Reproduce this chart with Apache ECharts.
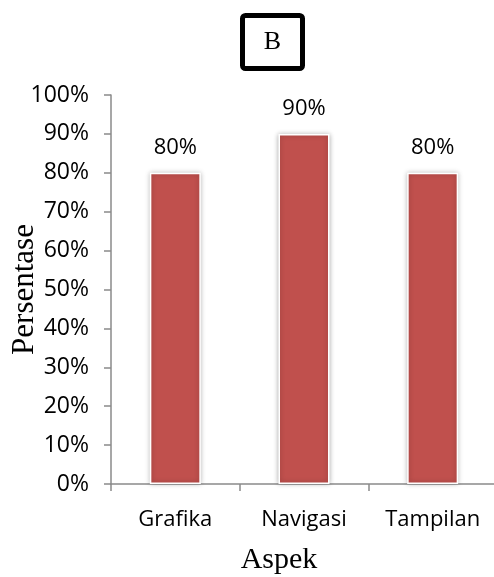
<!DOCTYPE html>
<html>
<head>
<meta charset="utf-8">
<script src="https://cdn.jsdelivr.net/npm/echarts@6/dist/echarts.min.js"></script>
<style>
  html, body { margin: 0; padding: 0; background: #fff; }
  #chart { width: 494px; height: 577px; }
</style>
</head>
<body>
<div id="chart"></div>
<script>
// Aspects evaluated and their percentage scores
const categories = ['Grafika', 'Navigasi', 'Tampilan'];
const values = [0.8, 0.9, 0.8];
const yTicks = [0, 0.1, 0.2, 0.3, 0.4, 0.5, 0.6, 0.7, 0.8, 0.9, 1.0];

const SANS = "'Open Sans', 'Noto Sans', sans-serif";
const SERIF = "'Liberation Serif', 'DejaVu Serif', serif";
const AXIS_GRAY = '#8a8a8a';

const pct = v => Math.round(v * 100) + '%';

const chart = echarts.init(document.getElementById('chart'), null, { renderer: 'canvas' });

chart.setOption({
  backgroundColor: '#ffffff',
  animation: false,
  grid: {
    left: 111, right: -3, top: 95, bottom: 93,
    containLabel: false,
    outerBoundsMode: 'none'
  },
  graphic: [
    {
      type: 'rect',
      shape: { x: 242.5, y: 15.5, width: 60, height: 53, r: 3 },
      style: { fill: '#ffffff', stroke: '#000000', lineWidth: 5 }
    },
    {
      type: 'text',
      x: 272.5,
      y: 42,
      style: {
        text: 'B',
        font: "26px " + SERIF,
        fill: '#000000',
        align: 'center',
        verticalAlign: 'middle'
      }
    }
  ],
  xAxis: {
    type: 'category',
    data: categories,
    name: 'Aspek',
    nameLocation: 'middle',
    nameGap: 61,
    nameTextStyle: { fontFamily: SERIF, fontSize: 30, color: '#000', padding: [0, 50, 0, 0] },
    axisLine: { show: true, lineStyle: { color: AXIS_GRAY, width: 1.5 } },
    axisTick: { show: true, length: 7, lineStyle: { color: AXIS_GRAY, width: 1.5 } },
    axisLabel: { fontFamily: SANS, fontSize: 22, color: '#000', margin: 25, interval: 0, hideOverlap: false },
    splitLine: { show: false }
  },
  yAxis: {
    type: 'value',
    min: 0,
    max: 1,
    interval: 0.1,
    name: 'Persentase',
    nameLocation: 'middle',
    nameRotate: 90,
    nameGap: 71,
    nameMoveOverlap: false,
    nameTextStyle: { fontFamily: SERIF, fontSize: 31, color: '#000' },
    axisLine: { show: true, lineStyle: { color: AXIS_GRAY, width: 1.5 } },
    axisTick: { show: true, length: 7, lineStyle: { color: AXIS_GRAY, width: 1.5 } },
    axisLabel: {
      fontFamily: SANS,
      fontSize: 23,
      color: '#000',
      margin: 22,
      formatter: v => yTicks.some(t => Math.abs(t - v) < 1e-9) ? pct(v) : ''
    },
    splitLine: { show: false }
  },
  series: [
    {
      type: 'bar',
      data: values,
      barWidth: 51,
      itemStyle: {
        color: '#C0504D',
        borderColor: '#ffffff',
        borderWidth: 1.5,
        shadowBlur: 5,
        shadowColor: 'rgba(0,0,0,0.3)'
      },
      label: {
        show: true,
        position: 'top',
        distance: 14,
        fontFamily: SANS,
        fontSize: 22,
        color: '#000',
        formatter: p => pct(p.value)
      }
    }
  ]
});
</script>
</body>
</html>
